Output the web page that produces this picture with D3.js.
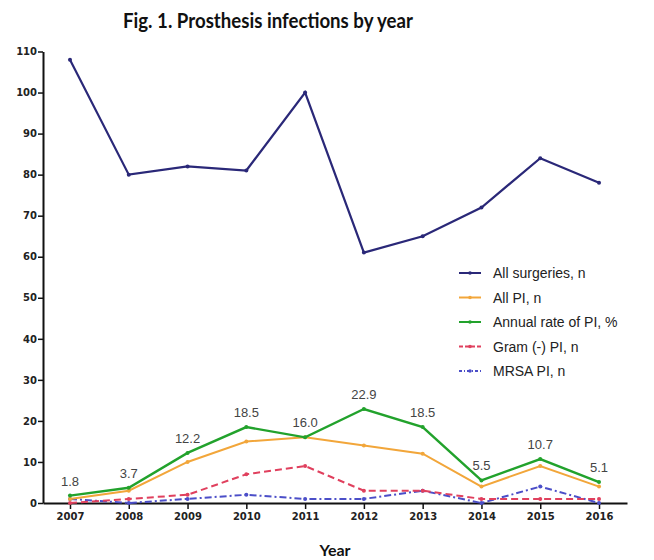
<!DOCTYPE html>
<html>
<head>
<meta charset="utf-8">
<script src="https://cdn.jsdelivr.net/npm/d3@7"></script>
<style>
body{margin:0;background:#fff;}
svg{display:block;}
</style>
</head>
<body>
<svg id="c" width="654" height="560"></svg>
<script>
const years = [2007,2008,2009,2010,2011,2012,2013,2014,2015,2016];
const allSurgeries = [108,80,82,81,100,61,65,72,84,78];
const allPI = [1,3,10,15,16,14,12,4,9,4];
const annualRate = [1.8,3.7,12.2,18.5,16.0,22.9,18.5,5.5,10.7,5.1];
const gramNeg = [0,1,2,7,9,3,3,1,1,1];
const mrsa = [1,0,1,2,1,1,3,0,4,0];
const yTicks = [0,10,20,30,40,50,60,70,80,90,100,110];
const legendLabels = ["All surgeries, n","All PI, n","Annual rate of PI, %","Gram (-) PI, n","MRSA PI, n"];

const svg = d3.select("#c");
const x = d3.scaleLinear().domain([2007-0.459, 2016+0.476]).range([43, 627]);
const y = d3.scaleLinear().domain([0,110]).range([503, 51.5]);

svg.append("text").attr("x",268).attr("y",28).attr("text-anchor","middle")
  .attr("font-family","Lato, Open Sans, sans-serif").attr("font-weight","bold")
  .attr("font-size",20).attr("fill","#111")
  .attr("textLength",290).attr("lengthAdjust","spacingAndGlyphs")
  .text("Fig. 1. Prosthesis infections by year");

// y axis
const ya = svg.append("g").attr("transform","translate(43,0)")
  .call(d3.axisLeft(y).tickValues(yTicks).tickSize(5).tickSizeOuter(0));
ya.select(".domain").attr("stroke","#111").attr("stroke-width",2);
ya.selectAll(".tick line").attr("stroke","#111").attr("stroke-width",1.5);
ya.selectAll(".tick text").attr("font-family","DejaVu Sans, sans-serif").attr("font-weight","bold")
  .attr("font-size",10).attr("fill","#222").attr("x",-6);

// x axis
const xa = svg.append("g").attr("transform","translate(0,503)")
  .call(d3.axisBottom(x).tickValues(years).tickFormat(d3.format("d")).tickSize(6).tickSizeOuter(0));
xa.select(".domain").attr("stroke","#111").attr("stroke-width",2);
xa.selectAll(".tick line").attr("stroke","#111").attr("stroke-width",1.5);
xa.selectAll(".tick text").attr("font-family","DejaVu Sans, sans-serif").attr("font-weight","bold")
  .attr("font-size",10).attr("fill","#222").attr("y",10);

svg.append("text").attr("x",335).attr("y",556).attr("text-anchor","middle")
  .attr("font-family","Lato, Open Sans, sans-serif").attr("font-weight","bold")
  .attr("font-size",16).attr("fill","#111").text("Year");

const series = [
  {vals: allSurgeries, color:"#2a2878", dash:null, w:2.2},
  {vals: allPI, color:"#f2a63a", dash:null, w:2},
  {vals: annualRate, color:"#22a22c", dash:null, w:2.4},
  {vals: gramNeg, color:"#e0405e", dash:"7,4", w:2},
  {vals: mrsa, color:"#4b4ec8", dash:"7,3,2,3", w:2}
];
const line = d3.line().x((d,i)=>x(years[i])).y(d=>y(d));
[4,3,1,2,0].forEach(k=>{
  const s = series[k];
  svg.append("path").datum(s.vals).attr("d",line).attr("fill","none")
    .attr("stroke",s.color).attr("stroke-width",s.w).attr("stroke-dasharray",s.dash);
  svg.selectAll(null).data(s.vals).enter().append("circle")
    .attr("cx",(d,i)=>x(years[i])).attr("cy",d=>y(d)).attr("r",2).attr("fill",s.color);
});

// data labels
svg.selectAll(null).data(annualRate).enter().append("text")
  .attr("x",(d,i)=>x(years[i])).attr("y",d=>y(d)-10).attr("text-anchor","middle")
  .attr("font-family","Liberation Sans, Arial, sans-serif").attr("font-size",13)
  .attr("fill","#444").text(d=>d.toFixed(1));

// legend
const lg = svg.append("g");
legendLabels.forEach((t,i)=>{
  const yy = 273 + i*24.5;
  const s = series[i];
  lg.append("line").attr("x1",459).attr("x2",481).attr("y1",yy).attr("y2",yy)
    .attr("stroke",s.color).attr("stroke-width",2).attr("stroke-dasharray", i===3?"4,2":(i===4?"3,2,1,2":null));
  lg.append("circle").attr("cx",470).attr("cy",yy).attr("r",1.8).attr("fill",s.color);
  lg.append("text").attr("x",493).attr("y",yy+5).attr("font-family","Liberation Sans, Arial, sans-serif")
    .attr("font-size",14).attr("fill","#222").text(t);
});
</script>
</body>
</html>
